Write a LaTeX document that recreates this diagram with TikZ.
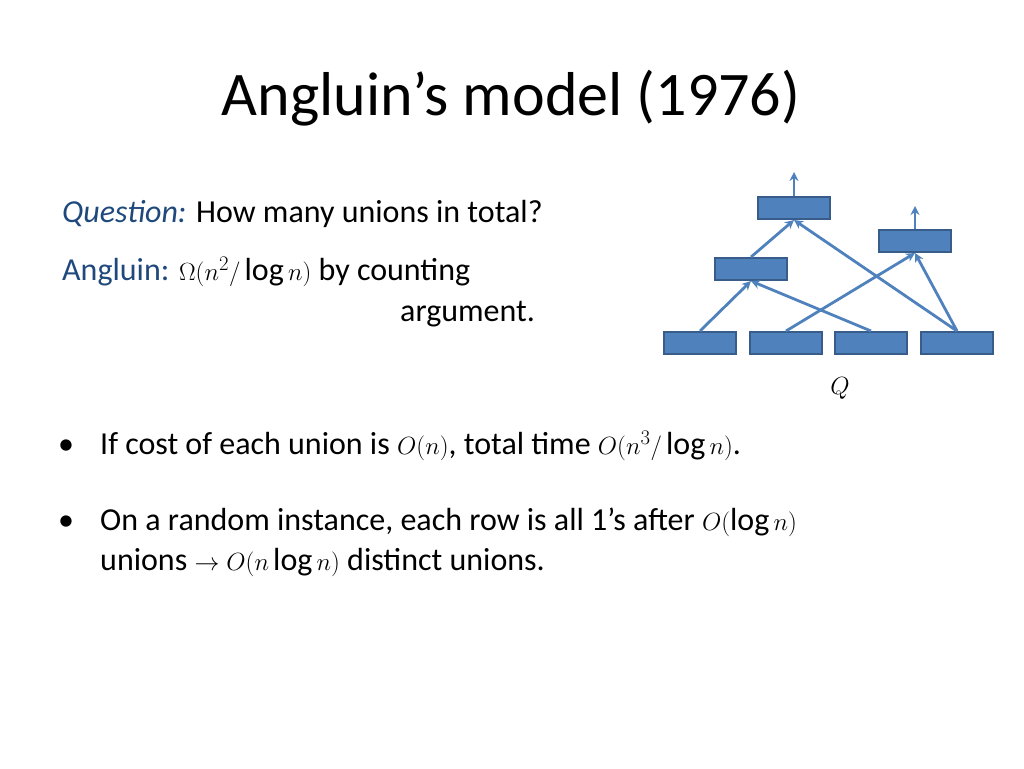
\documentclass[tikz,border=0pt]{standalone}
\usepackage{fontspec}
\setmainfont{Carlito}
\usetikzlibrary{arrows.meta}
\begin{document}
\begin{tikzpicture}[x=1pt,y=-1pt,
  bx/.style={draw=darkb, fill=boxblue, line width=2pt, minimum width=72pt, minimum height=22pt, inner sep=0pt},
  ar/.style={draw=boxblue, line width=2.8pt, -{Stealth[length=9pt,width=9pt]}},
  txt/.style={anchor=base west, inner sep=0pt, font=\fontsize{32}{36}\selectfont}]
\definecolor{boxblue}{HTML}{4F81BD}
\definecolor{darkb}{HTML}{385D8A}
\definecolor{qblue}{HTML}{1F497D}
\useasboundingbox (0,0) rectangle (1024,768);
\node[font=\fontsize{62}{68}\selectfont, inner sep=0pt] (title) at (511,98) {Angluin’s model (1976)};
\node[txt] (q) at (62,222) {\textcolor{qblue}{\itshape Question:} How many unions in total?};
\node[txt] (a) at (62,280) {\textcolor{qblue}{Angluin:} $\Omega(n^2/\log n)$ by counting};
\node[txt] (a2) at (400,321) {argument.};
\node[txt] (bu1) at (58,454) {•};
\node[txt] (b1) at (100,454) {If cost of each union is $O(n)$, total time $O(n^3/\log n)$.};
\node[txt] (bu2) at (58,530) {•};
\node[txt] (b2) at (100,530) {On a random instance, each row is all 1’s after $O(\log n)$};
\node[txt] (b3) at (100,570) {unions $\rightarrow O(n\log n)$ distinct unions.};
\node[bx] (n1) at (700,343) {};
\node[bx] (n2) at (786,343) {};
\node[bx] (n3) at (871,343) {};
\node[bx] (n4) at (957,343) {};
\node[bx] (ml) at (751,269) {};
\node[bx] (tp) at (794,208) {};
\node[bx] (rt) at (915,241) {};
\coordinate (tpo) at (794,172);
\coordinate (rto) at (915,206);
\node[font=\fontsize{26}{28}\selectfont] (Q) at (840,388) {$Q$};
\draw[ar] (n1.north) -- (ml.south);
\draw[ar] (n3.north) -- (ml.south);
\draw[ar] (ml.north) -- (tp.south);
\draw[ar] (n4.north) -- (tp.south);
\draw[ar] (n2.north) -- (rt.south);
\draw[ar] (n4.north) -- (rt.south);
\draw[ar] (tp.north) -- (tpo);
\draw[ar] (rt.north) -- (rto);
\end{tikzpicture}
\end{document}
